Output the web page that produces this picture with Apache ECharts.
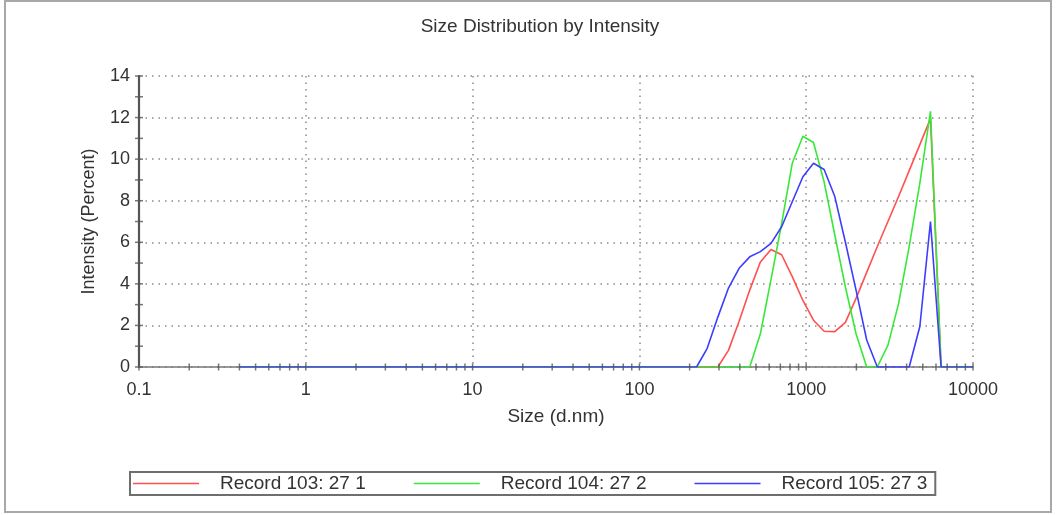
<!DOCTYPE html>
<html>
<head>
<meta charset="utf-8">
<script src="https://cdn.jsdelivr.net/npm/echarts@6/dist/echarts.min.js"></script>
<style>html,body{margin:0;padding:0;background:#fff}#c{width:1056px;height:515px}</style>
</head>
<body>
<div id="c"></div>
<script>
// Size bins (d.nm)
var sizes = [0.4,0.4632,0.5365,0.6213,0.7195,0.8332,0.9649,1.117,1.294,1.499,
  1.736,2.010,2.328,2.696,3.122,3.615,4.187,4.849,5.615,6.503,
  7.531,8.721,10.10,11.70,13.54,15.69,18.17,21.04,24.36,28.21,
  32.67,37.84,43.82,50.75,58.77,68.06,78.82,91.28,105.7,122.4,
  141.8,164.2,190.1,220.2,255.0,295.3,342.0,396.1,458.7,531.2,
  615.1,712.4,825.0,955.4,1106,1281,1484,1718,1990,2305,
  2669,3091,3580,4145,4801,5560,6439,7456,8635,10000];

var record103 = [0,0,0,0,0,0,0,0,0,0, 0,0,0,0,0,0,0,0,0,0, 0,0,0,0,0,0,0,0,0,0,
  0,0,0,0,0,0,0,0,0,0, 0,0,0,0,0,0,0.8,2.2,3.7,5.05,
  5.65,5.4,4.35,3.2,2.25,1.72,1.7,2.15,3.3,4.55,
  5.8,7.0,8.2,9.45,10.7,11.95,0,0,0,0];

var record104 = [0,0,0,0,0,0,0,0,0,0, 0,0,0,0,0,0,0,0,0,0, 0,0,0,0,0,0,0,0,0,0,
  0,0,0,0,0,0,0,0,0,0, 0,0,0,0,0,0,0,0,0,1.6,
  4.2,6.9,9.8,11.1,10.8,8.9,6.35,3.85,1.6,0,
  0,1.05,3.05,5.8,8.85,12.3,0,0,0,0];

var record105 = [0,0,0,0,0,0,0,0,0,0, 0,0,0,0,0,0,0,0,0,0, 0,0,0,0,0,0,0,0,0,0,
  0,0,0,0,0,0,0,0,0,0, 0,0,0,0,0.9,2.4,3.8,4.75,5.3,5.55,
  5.95,6.75,7.95,9.15,9.8,9.5,8.2,6.0,3.7,1.3,
  0,0,0,0,1.95,7.0,0,0,0,0];

var seriesNames = ['Record 103: 27 1','Record 104: 27 2','Record 105: 27 3'];
var xTickValues = [0.1,0.2,0.3,0.4,0.5,0.6,0.7,0.8,0.9,1,2,3,4,5,6,7,8,9,10,20,30,40,50,60,70,80,90,
  100,200,300,400,500,600,700,800,900,1000,2000,3000,4000,5000,6000,7000,8000,9000,10000];
var yTickValues = [0,1,2,3,4,5,6,7,8,9,10,11,12,13,14];

function pairs(vals){ return sizes.map(function(s,i){ return [s, vals[i]]; }); }

var FONT = 'Liberation Sans, Arial, sans-serif';
var dotted = { color:'#8a8a8a', width:1.5, type:[1.5,5] };

var chart = echarts.init(document.getElementById('c'), null, {renderer:'canvas'});
chart.setOption({
  animation:false,
  backgroundColor:'#fff',
  title:{ text:'Size Distribution by Intensity', left:535, top:12, textAlign:'center',
    textStyle:{ fontFamily:FONT, fontSize:19, fontWeight:'normal', color:'#333' } },
  graphic:[{ type:'rect', shape:{x:5,y:1,width:1046,height:511}, silent:true,
    style:{ fill:'none', stroke:'#a8a8a8', lineWidth:2 } }],
  grid:{ left:139, right:83, top:76, bottom:148 },
  legend:{ data:seriesNames, left:130, top:472, orient:'horizontal',
    padding:[2,8,2,3], borderColor:'#6e6e6e', borderWidth:2, borderRadius:0,
    icon:'rect', itemWidth:66, itemHeight:1.6, itemGap:48,
    textStyle:{ fontFamily:FONT, fontSize:19, color:'#333', padding:[0,0,0,16] } },
  xAxis:{ type:'log', logBase:10, min:0.1, max:10000,
    name:'Size (d.nm)', nameLocation:'middle', nameGap:40,
    nameTextStyle:{ fontFamily:FONT, fontSize:19, color:'#333' },
    axisLine:{ lineStyle:{ color:'#777', width:1.5 } },
    axisTick:{ show:false },
    axisLabel:{ fontFamily:FONT, fontSize:18, color:'#333', margin:14,
      formatter:function(v){ return String(Number(v.toPrecision(6))); } },
    splitLine:{ show:true, lineStyle:dotted } },
  yAxis:{ type:'value', min:0, max:14, interval:2,
    name:'Intensity (Percent)', nameLocation:'middle', nameGap:41,
    nameTextStyle:{ fontFamily:FONT, fontSize:18, color:'#333' },
    axisLine:{ show:true, lineStyle:{ color:'#555', width:2.2 } },
    axisTick:{ show:false },
    axisLabel:{ fontFamily:FONT, fontSize:18, color:'#333', margin:9 },
    splitLine:{ show:true, lineStyle:dotted } },
  series:[
    { name:seriesNames[0], type:'line', data:pairs(record103), symbol:'none', z:3,
      lineStyle:{ color:'#ff4f4f', width:1.6 }, itemStyle:{ color:'#ff4f4f' } },
    { name:seriesNames[1], type:'line', data:pairs(record104), symbol:'none', z:4,
      lineStyle:{ color:'#38e838', width:1.6 }, itemStyle:{ color:'#38e838' } },
    { name:seriesNames[2], type:'line', data:pairs(record105), symbol:'none', z:5,
      lineStyle:{ color:'#3d3dff', width:1.6 }, itemStyle:{ color:'#3d3dff' } },
    { name:'xticks', type:'scatter', silent:true, clip:false, z:6,
      data:xTickValues.map(function(v){ return [v,0]; }),
      symbol:'rect', symbolSize:[1.5,7], itemStyle:{ color:'#555' } },
    { name:'yticks', type:'scatter', silent:true, clip:false, z:6,
      data:yTickValues.map(function(v){ return [0.1,v]; }),
      symbol:'rect', symbolSize:[8,1.5], itemStyle:{ color:'#555' } }
  ]
});
</script>
</body>
</html>
